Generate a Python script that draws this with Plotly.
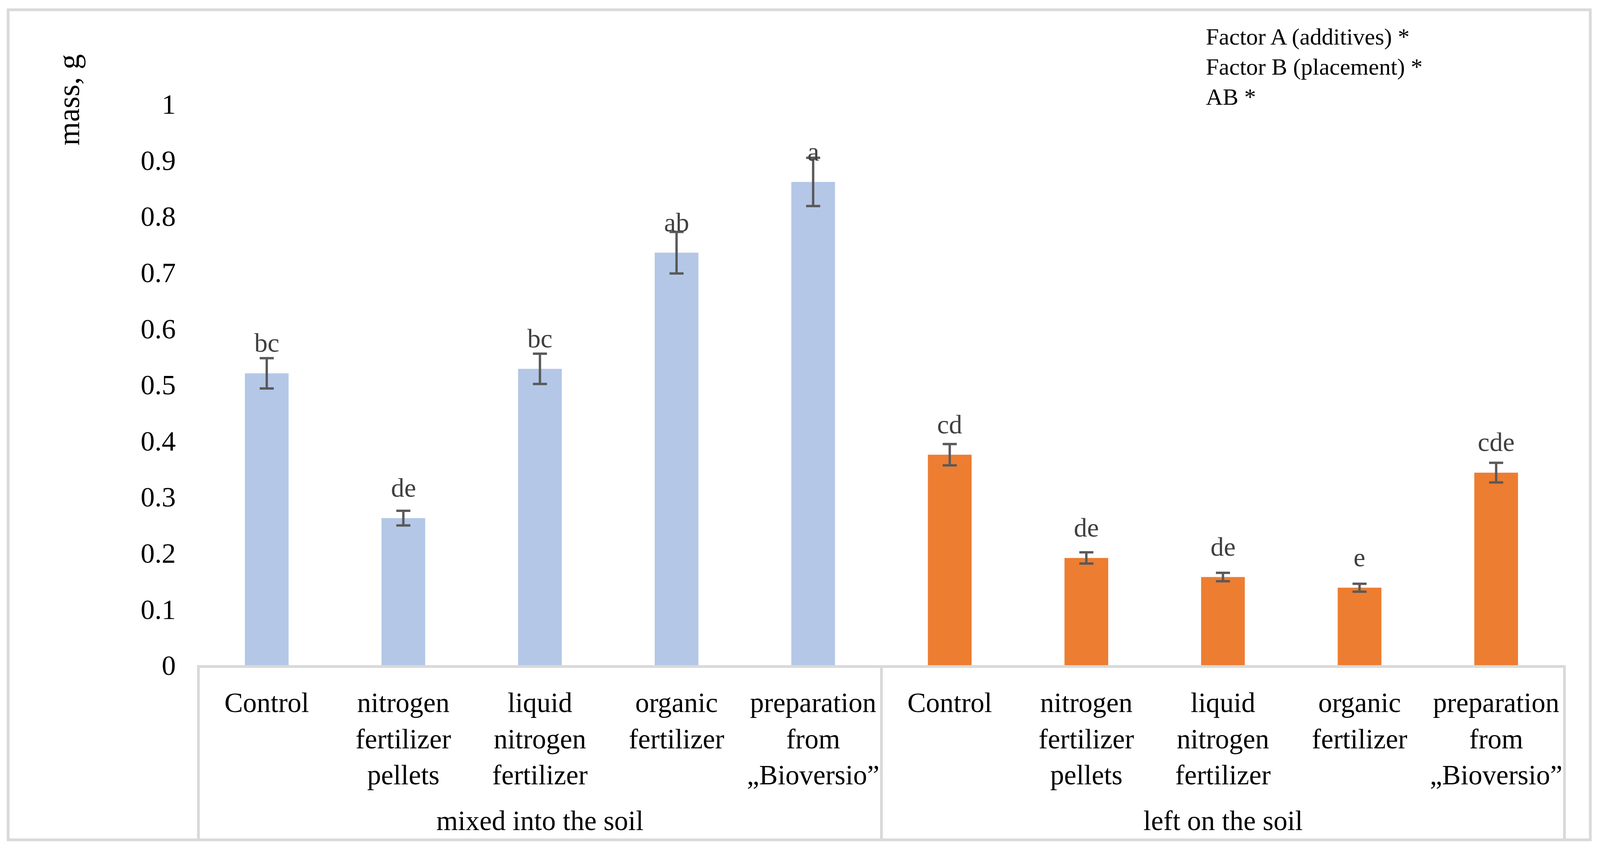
import plotly.graph_objects as go

# ---- data ----
groups = ["mixed into the soil", "left on the soil"]
treatments = [
    "Control",
    "nitrogen<br>fertilizer<br>pellets",
    "liquid<br>nitrogen<br>fertilizer",
    "organic<br>fertilizer",
    "preparation<br>from<br>\u201eBioversio\u201d",
]
mixed_vals = [0.520, 0.262, 0.528, 0.735, 0.861]
mixed_err = [0.027, 0.013, 0.027, 0.037, 0.043]
left_vals = [0.375, 0.191, 0.157, 0.138, 0.343]
left_err = [0.019, 0.010, 0.0075, 0.007, 0.0175]
mixed_letters = ["bc", "de", "bc", "ab", "a"]
left_letters = ["cd", "de", "de", "e", "cde"]
y_ticks = [0, 0.1, 0.2, 0.3, 0.4, 0.5, 0.6, 0.7, 0.8, 0.9, 1]
y_title = "mass, g"
factor_lines = ["Factor A (additives) *", "Factor B (placement) *", "AB *"]

FONT = "Liberation Serif, Times New Roman, serif"
BLUE = "#B4C7E7"
ORANGE = "#ED7D31"
ERR = "#595959"
GRID = "#D9D9D9"

# reference geometry (pixels of the 4397x2175 reference)
RW, RH = 4397, 2175
L, R, T, B = 545, 98, 266, 473
# the browser viewport is 4096 wide: scale horizontal pixel sizes to it
VW, VH = 4096, 2175
SX = VW / RW

mixed_ids = ["m%d" % i for i in range(len(treatments))]
left_ids = ["l%d" % i for i in range(len(treatments))]
all_ids = mixed_ids + left_ids

fig = go.Figure()
for ids, vals, errs, col in [
    (mixed_ids, mixed_vals, mixed_err, BLUE),
    (left_ids, left_vals, left_err, ORANGE),
]:
    fig.add_trace(go.Bar(
        x=ids, y=vals, width=0.32,
        marker=dict(color=col, line=dict(width=0)),
        error_y=dict(type="data", array=errs, visible=True,
                     color=ERR, thickness=6, width=18),
        showlegend=False, hoverinfo="skip",
    ))

# significance letters above bars
for ids, vals, lts in [(mixed_ids, mixed_vals, mixed_letters),
                       (left_ids, left_vals, left_letters)]:
    for xi, v, lt in zip(ids, vals, lts):
        fig.add_annotation(x=xi, y=v, xref="x", yref="y", text=lt, showarrow=False,
                           yanchor="middle", yshift=78,
                           font=dict(family=FONT, size=68, color="#404040"))

pw = RW - L - R
ph = RH - T - B
def px(xpix):
    return (xpix - L) / pw
def py(ypix):
    return (RH - B - ypix) / ph

# group labels under the category labels
for ids, g in [(mixed_ids, groups[0]), (left_ids, groups[1])]:
    fig.add_annotation(x=ids[len(ids) // 2], y=py(2100), xref="x", yref="paper",
                       text=g, showarrow=False, yanchor="middle",
                       font=dict(family=FONT, size=71, color="black"))

# y-axis title
fig.add_annotation(x=px(187), y=py(256), xref="paper", yref="paper",
                   text=y_title, textangle=-90, showarrow=False,
                   xanchor="center", yanchor="middle",
                   font=dict(family=FONT, size=78, color="black"))

# factor notes
for line, yc in zip(factor_lines, [94, 171, 248]):
    fig.add_annotation(x=px(3311), y=py(yc), xref="paper", yref="paper",
                       text=line, showarrow=False, xanchor="left", yanchor="middle",
                       font=dict(family=FONT, size=60, color="black"))

# outer chart border
fig.add_shape(type="rect", xref="paper", yref="paper",
              x0=px(22), x1=px(4370), y0=py(2149), y1=py(25),
              line=dict(color=GRID, width=7), layer="below")
# category box dividers
for xv in [0, 0.5, 1]:
    fig.add_shape(type="line", xref="paper", yref="paper",
                  x0=xv, x1=xv, y0=0, y1=py(2149),
                  line=dict(color=GRID, width=7))

fig.update_layout(
    width=VW, height=VH,
    margin=dict(l=L * SX, r=R * SX, t=T, b=B, autoexpand=False),
    paper_bgcolor="white", plot_bgcolor="white",
    barmode="overlay",
    font=dict(family=FONT, color="black"),
    xaxis=dict(
        type="category", categoryorder="array", categoryarray=all_ids,
        tickvals=all_ids, ticktext=treatments + treatments,
        range=[-0.5, len(all_ids) - 0.5],
        showline=True, linecolor=GRID, linewidth=7,
        showgrid=False, zeroline=False,
        ticks="", ticklabelstandoff=28, tickangle=0,
        tickfont=dict(family=FONT, size=71, color="black"),
        automargin=False,
    ),
    yaxis=dict(
        range=[0, 1], tickvals=y_ticks,
        showline=False, showgrid=False, zeroline=False,
        ticks="", ticklabelstandoff=int(62 * SX),
        tickfont=dict(family=FONT, size=72, color="black"),
        automargin=False,
    ),
)

post = """
document.documentElement.style.margin='0';
document.body.style.margin='0';
document.body.style.overflow='hidden';
var gd = document.querySelector('.plotly-graph-div');
var vw = window.innerWidth, vh = window.innerHeight;
if (vw !== %d || vh !== %d) {
  var sx = vw / %d, sy = vh / %d;
  Plotly.relayout(gd, {width: vw, height: vh,
    'margin.l': %d * sx, 'margin.r': %d * sx,
    'margin.t': %d * sy, 'margin.b': %d * sy});
}
""" % (VW, VH, RW, RH, L, R, T, B)

fig.write_html("out.html", post_script=post, config={"displayModeBar": False})
